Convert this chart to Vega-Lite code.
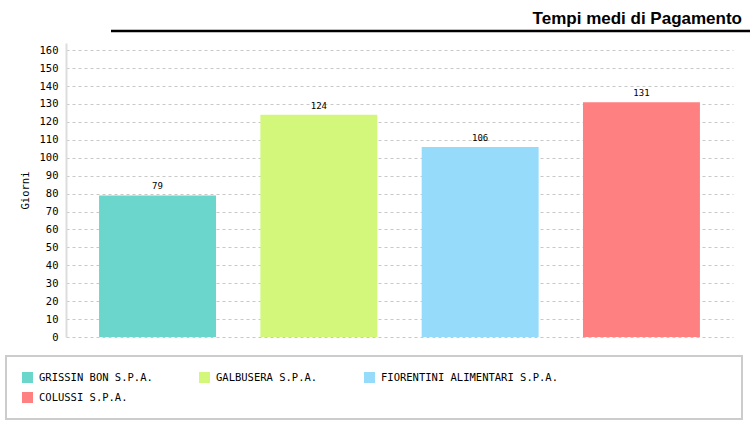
{
  "$schema": "https://vega.github.io/schema/vega-lite/v6.json",
  "padding": {"left": 5, "top": 9, "right": 0, "bottom": 1},
  "background": "white",
  "config": {"view": {"stroke": null}, "legend": {"strokeWidth": 2}},
  "spacing": 10,
  "vconcat": [
    {
      "width": 684,
      "height": 1,
      "title": {
        "text": "Tempi medi di Pagamento",
        "anchor": "end",
        "frame": "group",
        "font": "Liberation Sans",
        "fontSize": 17,
        "fontWeight": "bold",
        "color": "#000",
        "dx": -8,
        "offset": 2
      },
      "data": {"values": [{}]},
      "mark": {"type": "rule", "color": "#000", "strokeWidth": 2.5, "xOffset": 45},
      "encoding": {
        "x": {"datum": 0, "type": "quantitative", "scale": {"domain": [0, 1]}, "axis": null},
        "x2": {"datum": 1},
        "y": {
          "datum": 0,
          "type": "quantitative",
          "scale": {"domain": [0, 1]},
          "axis": null
        }
      }
    },
    {
      "width": 667,
      "height": 294,
      "data": {
        "values": [
          {"azienda": "GRISSIN BON S.P.A.", "giorni": 79},
          {"azienda": "GALBUSERA S.P.A.", "giorni": 124},
          {"azienda": "FIORENTINI ALIMENTARI S.P.A.", "giorni": 106},
          {"azienda": "COLUSSI S.P.A.", "giorni": 131}
        ]
      },
      "encoding": {
        "x": {
          "field": "azienda",
          "type": "nominal",
          "sort": null,
          "scale": {"paddingInner": 0.275, "paddingOuter": 0.205},
          "axis": null
        },
        "y": {
          "field": "giorni",
          "type": "quantitative",
          "scale": {"domain": [0, 164], "nice": false},
          "axis": {
            "values": [0, 10, 20, 30, 40, 50, 60, 70, 80, 90, 100, 110, 120, 130, 140, 150, 160],
            "title": "Giorni",
            "titleFont": "DejaVu Sans Mono",
            "titleFontSize": 10.5,
            "titleFontWeight": "normal",
            "titleColor": "#000",
            "titlePadding": 9,
            "labelFont": "DejaVu Sans Mono",
            "labelFontSize": 10.5,
            "labelColor": "#000",
            "labelPadding": 8,
            "ticks": false,
            "domainColor": "#dddddd",
            "domainWidth": 2,
            "gridColor": "#c8c8c8",
            "gridDash": [3, 3]
          }
        }
      },
      "layer": [
        {
          "mark": {"type": "bar"},
          "encoding": {
            "color": {
              "field": "azienda",
              "type": "nominal",
              "sort": null,
              "scale": {
                "domain": ["GRISSIN BON S.P.A.", "GALBUSERA S.P.A.", "FIORENTINI ALIMENTARI S.P.A.", "COLUSSI S.P.A."],
                "range": ["#6ad6cc", "#d3f77b", "#96dcfa", "#ff8080"]
              },
              "legend": {
                "orient": "none",
                "legendX": -60,
                "legendY": 326,
                "direction": "horizontal",
                "columns": 3,
                "columnPadding": 46,
                "rowPadding": 9,
                "padding": 16,
                "strokeColor": "#cccccc",
                "symbolType": "square",
                "symbolSize": 121,
                "symbolStrokeWidth": 0,
                "symbolOpacity": 1,
                "labelFont": "DejaVu Sans Mono",
                "labelFontSize": 10.5,
                "labelColor": "#000",
                "labelOffset": 6,
                "labelLimit": 400,
                "title": " ",
                "titleOrient": "right",
                "titleFontSize": 10,
                "titlePadding": 168
              }
            }
          }
        },
        {
          "mark": {"type": "text", "dy": -9, "font": "DejaVu Sans Mono", "fontSize": 9, "color": "#000"},
          "encoding": {"text": {"field": "giorni", "type": "quantitative"}}
        }
      ]
    }
  ]
}
